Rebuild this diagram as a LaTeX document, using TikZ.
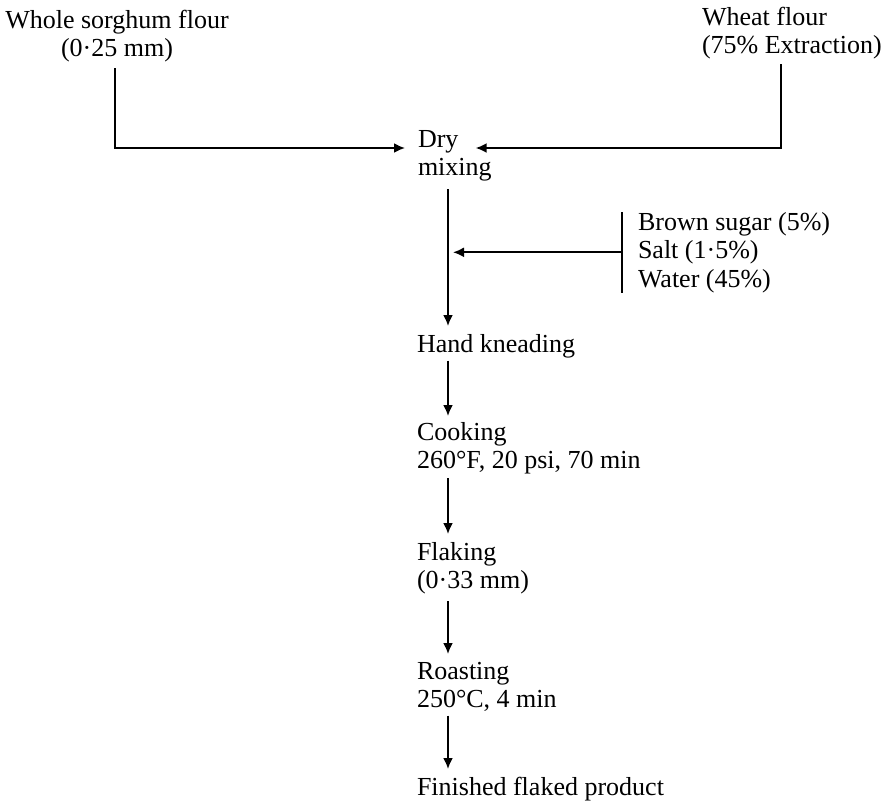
\documentclass[tikz,border=0pt]{standalone}
\usepackage{fontspec}
\setmainfont{Liberation Serif}
\usepackage{tikz}
\usetikzlibrary{arrows.meta, positioning}

\begin{document}
\begin{tikzpicture}[x=1pt, y=-1pt,
    stage/.style={inner sep=0pt, outer sep=0pt, align=left, anchor=north west,
                  font=\fontsize{26}{28.5}\selectfont},
    flow/.style={line width=1.9pt, -{Latex[length=11pt, width=10pt]}},
    rule/.style={line width=1.9pt}]

    \useasboundingbox (0,0) rectangle (883,804);

    % =================================================================
    % 1. NGUYÊN LIỆU VÀ CÁC CÔNG ĐOẠN
    % =================================================================
    \node[stage, anchor=north, align=center] (sorghum) at (117,10) {Whole sorghum flour\\(0·25 mm)};
    \node[stage] (wheat) at (702,7) {Wheat flour\\(75\% Extraction)};
    \node[stage] (dry) at (418,130) {Dry\\mixing};
    \node[stage] (adds) at (638,212) {Brown sugar (5\%)\\Salt (1·5\%)\\Water (45\%)};
    \node[stage] (knead) at (417,334) {Hand kneading};
    \node[stage] (cook) at (417,422) {Cooking\\260°F, 20 psi, 70 min};
    \node[stage] (flake) at (417,542) {Flaking\\(0·33 mm)};
    \node[stage] (roast) at (417,662) {Roasting\\250°C, 4 min};
    \node[stage] (product) at (417,777) {Finished flaked product};

    % Trục dọc của dây chuyền
    \coordinate (axis) at (448,0);
    \coordinate (dryin) at ([yshift=-18pt]dry.north west);
    \coordinate (bar) at ([xshift=-16pt]adds.west);

    % =================================================================
    % 2. CÁC MŨI TÊN NHẬP LIỆU
    % =================================================================
    \draw[flow, shorten <=6pt] ([xshift=-2pt]sorghum.south) |- ([xshift=-13pt]dryin);
    \draw[flow, shorten <=5pt] ([xshift=-11pt]wheat.south) |- ([xshift=-16pt]dry.east |- dryin);

    % Phụ gia
    \draw[rule] ([xshift=-16pt]adds.north west) -- ([xshift=-16pt]adds.south west);
    \draw[flow, shorten >=5pt] (bar) -- (bar -| axis);

    % =================================================================
    % 3. CÁC MŨI TÊN CÔNG ĐOẠN
    % =================================================================
    \draw[flow, shorten <=8pt, shorten >=8pt] (dry.south -| axis) -- (knead.north -| axis);
    \draw[flow, shorten <=3pt, shorten >=6pt] (knead.south -| axis) -- (cook.north -| axis);
    \draw[flow, shorten <=4pt, shorten >=8pt] (cook.south -| axis) -- (flake.north -| axis);
    \draw[flow, shorten <=7pt, shorten >=8pt] (flake.south -| axis) -- (roast.north -| axis);
    \draw[flow, shorten <=4pt, shorten >=8pt] (roast.south -| axis) -- (product.north -| axis);

\end{tikzpicture}
\end{document}
